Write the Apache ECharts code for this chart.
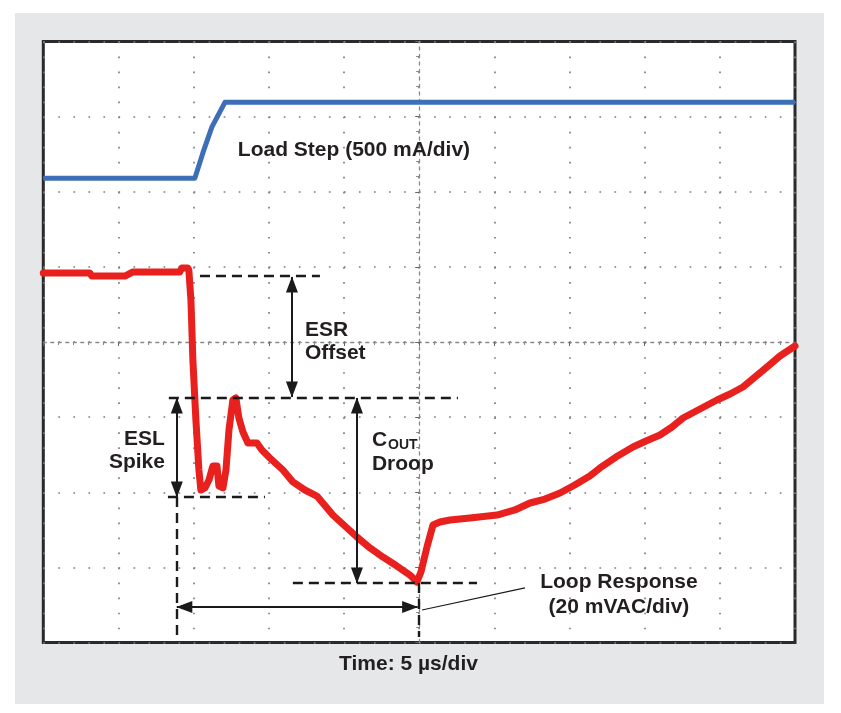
<!DOCTYPE html>
<html><head><meta charset="utf-8">
<script src="https://cdn.jsdelivr.net/npm/echarts/dist/echarts.min.js"></script>
<style>
html,body{margin:0;padding:0;background:#fff;}
#wrap{position:relative;width:841px;height:713px;}
#panel{position:absolute;left:15px;top:13px;width:809px;height:691px;background:#e6e7e8;}
#chart{position:absolute;left:0;top:0;width:841px;height:713px;}
</style></head><body>
<div id="wrap"><div id="panel"></div><div id="chart"></div></div>
<script>
// time in microseconds relative to screen centre (5 us/div), amplitude in divisions
const loadX = [-25, -14.92, -14.38, -13.79, -12.92, 25];
const loadY = [2.18, 2.18, 2.52, 2.86, 3.19, 3.19];

const voutX = [-25, -21.90, -21.77, -19.57, -19.04, -15.92, -15.79, -15.39, -15.32, -15.18,
  -15.05, -14.85, -14.65, -14.52, -14.25, -13.98, -13.72, -13.45, -13.32, -13.05,
  -12.85, -12.65, -12.39, -12.19, -11.99, -11.72, -11.39, -10.79, -10.46, -9.93,
  -9.06, -8.40, -7.60, -6.80, -5.74, -4.94, -4.14, -3.27, -2.41, -1.48,
  -0.61, -0.15, 0.12, 0.52, 0.92, 1.38, 2.05, 3.38, 5.18, 6.37,
  7.37, 8.37, 9.37, 10.35, 11.35, 12.03, 13.09, 14.22, 15.09, 16.02,
  16.82, 17.55, 18.68, 19.81, 20.68, 21.54, 22.34, 23.14, 24.00, 25.00];
const voutY = [0.918, 0.918, 0.878, 0.878, 0.932, 0.932, 0.985, 0.985, 0.958, 0.559,
  -0.240, -1.038, -1.704, -1.970, -1.943, -1.837, -1.650, -1.650, -1.917, -1.943,
  -1.704, -1.171, -0.772, -0.745, -1.012, -1.198, -1.344, -1.344, -1.438, -1.544,
  -1.704, -1.863, -1.970, -2.050, -2.303, -2.449, -2.596, -2.742, -2.862, -2.982,
  -3.102, -3.194, -3.061, -2.729, -2.436, -2.396, -2.369, -2.343, -2.303, -2.236,
  -2.143, -2.090, -2.010, -1.903, -1.784, -1.677, -1.531, -1.398, -1.318, -1.238,
  -1.131, -1.012, -0.892, -0.772, -0.692, -0.599, -0.466, -0.333, -0.186, -0.053];

// annotation geometry in data units [x1, y1, x2, y2]
const dashedSegs = [
  [-14.58, 0.878, -6.60, 0.878],
  [-16.65, -0.745, 2.58, -0.745],
  [-16.71, -2.063, -10.26, -2.063],
  [-8.40, -3.208, 3.85, -3.208],
  [-16.12, -2.063, -16.12, -3.926],
  [-0.05, -3.208, -0.05, -3.926]
];
const arrowSegs = [
  [-8.46, 0.865, -8.46, -0.732],
  [-16.12, -0.745, -16.12, -2.063],
  [-4.14, -0.745, -4.14, -3.208],
  [-16.12, -3.527, -0.10, -3.527]
];
const leaderSeg = [0.19, -3.567, 7.04, -3.274];

const labelTexts = ['Load Step (500 mA/div)', '{t|ESR}\n{t|Offset}', '{t|ESL}\n{t|Spike}', '{t|C}{s|OUT}\n{t|Droop}', '{u|Loop Response}\n{u|(20 mVAC/div)}'];
const labelCoords = [[-12.06, 2.556], [-7.60, 0.007], [-16.91, -1.451], [-3.14, -1.457], [13.29, -3.361]];
const labelPos = ['right', 'right', 'left', 'right', 'inside'];
const axisTitle = 'Time: 5 µs/div';

const FONT = '"Liberation Sans", Arial, Helvetica, sans-serif';
const INK = '#231f20';
const FS = 21;

const zip = (xs, ys) => xs.map((x, i) => [x, ys[i]]);

const dashStyle = {type: [10, 6], width: 2.4, color: '#1a1a1a'};
const arrowStyle = {type: 'solid', width: 2, color: '#1a1a1a'};
const markLineData = [];
dashedSegs.forEach(s => markLineData.push([
  {coord: [s[0], s[1]], symbol: 'none', lineStyle: dashStyle},
  {coord: [s[2], s[3]], symbol: 'none'}
]));
arrowSegs.forEach(s => markLineData.push([
  {coord: [s[0], s[1]], symbol: 'triangle', symbolSize: [12, 16], symbolOffset: [0, 7.5], lineStyle: arrowStyle},
  {coord: [s[2], s[3]], symbol: 'triangle', symbolSize: [12, 16], symbolOffset: [0, 7.5]}
]));
markLineData.push([
  {coord: [leaderSeg[0], leaderSeg[1]], symbol: 'none', lineStyle: {type: 'solid', width: 1.2, color: '#1a1a1a'}},
  {coord: [leaderSeg[2], leaderSeg[3]], symbol: 'none'}
]);

const richBase = {
  t: {fontFamily: FONT, fontSize: FS, fontWeight: 'bold', color: INK, lineHeight: 23},
  u: {fontFamily: FONT, fontSize: FS, fontWeight: 'bold', color: INK, lineHeight: 25},
  s: {fontFamily: FONT, fontSize: 14, fontWeight: 'bold', color: INK, padding: [11, 0, 0, 1]}
};
const markPointData = labelTexts.map((txt, i) => ({
  coord: labelCoords[i],
  value: 0,
  label: {
    show: true, position: labelPos[i], distance: 0,
    formatter: txt,
    fontFamily: FONT, fontSize: FS, fontWeight: 'bold', color: INK,
    align: labelPos[i] === 'left' ? 'right' : (labelPos[i] === 'inside' ? 'center' : 'left'),
    rich: richBase
  }
}));

const gridLine = {color: '#7e7e7e', width: 1.7, type: [1.7, 13.33]};

const chart = echarts.init(document.getElementById('chart'), null, {renderer: 'canvas'});
chart.setOption({
  animation: false,
  backgroundColor: 'transparent',
  title: {
    text: axisTitle, left: 339, top: 654, padding: 0,
    textStyle: {fontFamily: FONT, fontSize: FS, fontWeight: 'bold', color: INK}
  },
  grid: {
    left: 43.3, right: 46, top: 41.5, bottom: 70.5,
    show: true, backgroundColor: '#ffffff', borderColor: '#2a2a2a', borderWidth: 3,
    containLabel: false, outerBoundsMode: 'none'
  },
  xAxis: {
    type: 'value', min: -25, max: 25, interval: 5,
    axisLine: {show: true, onZero: true, lineStyle: {color: '#8a8a8a', width: 1.3, type: [3, 4.5]}},
    axisTick: {show: true, length: 4, lineStyle: {color: '#666'}},
    minorTick: {show: true, splitNumber: 5, length: 3, lineStyle: {color: '#888'}},
    axisLabel: {show: false},
    splitLine: {show: true, lineStyle: gridLine}
  },
  yAxis: {
    type: 'value', min: -4, max: 4, interval: 1,
    axisLine: {show: true, onZero: true, lineStyle: {color: '#8a8a8a', width: 1.3, type: [3, 4.5]}},
    axisTick: {show: true, length: 4, lineStyle: {color: '#666'}},
    minorTick: {show: true, splitNumber: 5, length: 3, lineStyle: {color: '#888'}},
    axisLabel: {show: false},
    splitLine: {show: true, lineStyle: gridLine}
  },
  series: [
    {
      name: 'Load Step', type: 'line', data: zip(loadX, loadY),
      showSymbol: false, symbol: 'none', silent: true,
      lineStyle: {color: '#3d6fb6', width: 5, join: 'round'},
      markPoint: {silent: true, animation: false, symbol: 'circle', symbolSize: 0,
        itemStyle: {color: 'transparent'}, data: markPointData}
    },
    {
      name: 'Loop Response', type: 'line', data: zip(voutX, voutY),
      showSymbol: false, symbol: 'none', silent: true,
      lineStyle: {color: '#e8201e', width: 7, join: 'round', cap: 'round'},
      markLine: {silent: true, animation: false, label: {show: false},
        emphasis: {disabled: true}, data: markLineData}
    }
  ]
});
</script></body></html>
